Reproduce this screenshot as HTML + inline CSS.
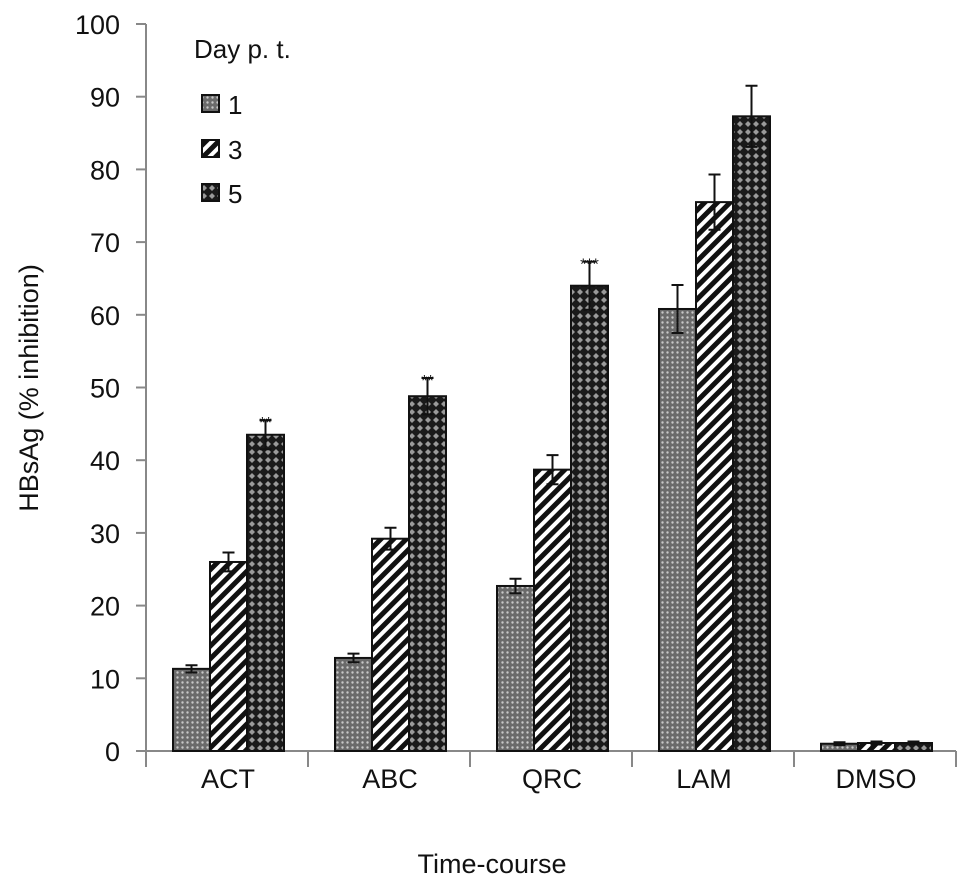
<!DOCTYPE html>
<html><head><meta charset="utf-8"><style>
body{margin:0;background:#fff}
svg text{font-family:"Liberation Sans",Arial,sans-serif;fill:#111}
</style></head><body>
<svg id="chart" width="969" height="889" viewBox="0 0 969 889" xmlns="http://www.w3.org/2000/svg">
<defs>
<pattern id="p1" width="5" height="5" patternUnits="userSpaceOnUse"><rect width="5" height="5" fill="#6a6a6a"/><circle cx="2.5" cy="2.5" r="1.2" fill="#c8c8c8"/></pattern>
<pattern id="p2" width="9" height="9" patternUnits="userSpaceOnUse" patternTransform="rotate(45)"><rect width="9" height="9" fill="#fff"/><rect width="5" height="9" fill="#111"/></pattern>
<pattern id="p3" width="8" height="8" patternUnits="userSpaceOnUse"><rect width="8" height="8" fill="#1a1a1a"/><path d="M4 1 L7 4 L4 7 L1 4 Z" fill="#9a9a9a"/></pattern>
</defs>
<g id="axes"></g>
<g id="bars"></g>
<text transform="translate(38,388) rotate(-90)" text-anchor="middle" font-size="27">HBsAg (% inhibition)</text>
<text x="492" y="873" text-anchor="middle" font-size="27">Time-course</text>
<g>
<text x="194" y="58" font-size="26">Day p. t.</text>
<rect x="202" y="95" width="17" height="17" fill="url(#p1)" stroke="#111" stroke-width="2"/>
<text x="228" y="114" font-size="26">1</text>
<rect x="202" y="140" width="17" height="17" fill="url(#p2)" stroke="#111" stroke-width="2"/>
<text x="228" y="159" font-size="26">3</text>
<rect x="202" y="184" width="17" height="17" fill="url(#p3)" stroke="#111" stroke-width="2"/>
<text x="228" y="203" font-size="26">5</text>
</g>
</svg>
<script>
const categories=["ACT","ABC","QRC","LAM","DMSO"];
const day1=[11.3,12.8,22.7,60.8,1.0];
const day3=[26.0,29.2,38.7,75.5,1.1];
const day5=[43.5,48.8,64.0,87.3,1.1];
const err1=[0.5,0.6,1.0,3.3,0.2];
const err3=[1.3,1.5,2.0,3.8,0.2];
const err5=[2.0,2.5,3.3,4.2,0.2];
const stars5=["**","**","***","",""];
const yTicks=[0,10,20,30,40,50,60,70,80,90,100];

const NS="http://www.w3.org/2000/svg";
const x0=146,groupW=162,y0=751,yTop=24;
function y(v){return y0-(v/100)*(y0-yTop);}
function gx(i){return x0+i*groupW;}
function mk(tag,attrs,parent){const e=document.createElementNS(NS,tag);for(const k in attrs)e.setAttribute(k,attrs[k]);parent.appendChild(e);return e;}
const axes=document.getElementById('axes'),bars=document.getElementById('bars');
let l=mk('line',{x1:x0,y1:y(0),x2:x0,y2:y(100),stroke:'#888','stroke-width':2},axes);


l=mk('line',{x1:x0,y1:y0,x2:x0+groupW*categories.length,y2:y0,stroke:'#888','stroke-width':2},axes);


yTicks.forEach(t=>{
 const tk=mk('line',{x1:x0-10,y1:y(t),x2:x0,y2:y(t),stroke:'#888','stroke-width':2},axes);
 
 
 const tx=mk('text',{x:x0-26,y:y(t)+10,'text-anchor':'end','font-size':27},axes);
 tx.textContent=t;
 
 
});
for(let i=0;i<=categories.length;i++){
 const tk=mk('line',{x1:gx(i),y1:y0,x2:gx(i),y2:y0+16,stroke:'#888','stroke-width':2},axes);
 
 
}
const series=[[day1,err1,'p1'],[day3,err3,'p2'],[day5,err5,'p3']];
categories.forEach((c,i)=>{
 const tx=mk('text',{x:gx(i)+82-(i===3?10:0),y:788,'text-anchor':'middle','font-size':27},axes);
 tx.textContent=c;
 
 
 series.forEach((s,j)=>{
  const v=s[0][i],e=s[1][i];
  const bx=gx(i)+27+j*37;
  const r=mk('rect',{x:bx,y:y(v),width:37,height:y0-y(v),fill:'url(#'+s[2]+')',stroke:'#111','stroke-width':2},bars);
  
  
  const cx=bx+18.5;
  const eb=mk('path',{d:`M${cx} ${y(v+e)}V${y(v-e)}M${cx-6} ${y(v+e)}H${cx+6}M${cx-6} ${y(v-e)}H${cx+6}`,stroke:'#111','stroke-width':2,fill:'none'},bars);
  
  
  if(j===2&&stars5[i]){
   const st=mk('text',{x:cx,y:y(v+e)+8,'text-anchor':'middle','font-size':16,fill:'#444'},bars);
   st.textContent=stars5[i];
   
   
  }
 });
});
</script>
</body></html>
